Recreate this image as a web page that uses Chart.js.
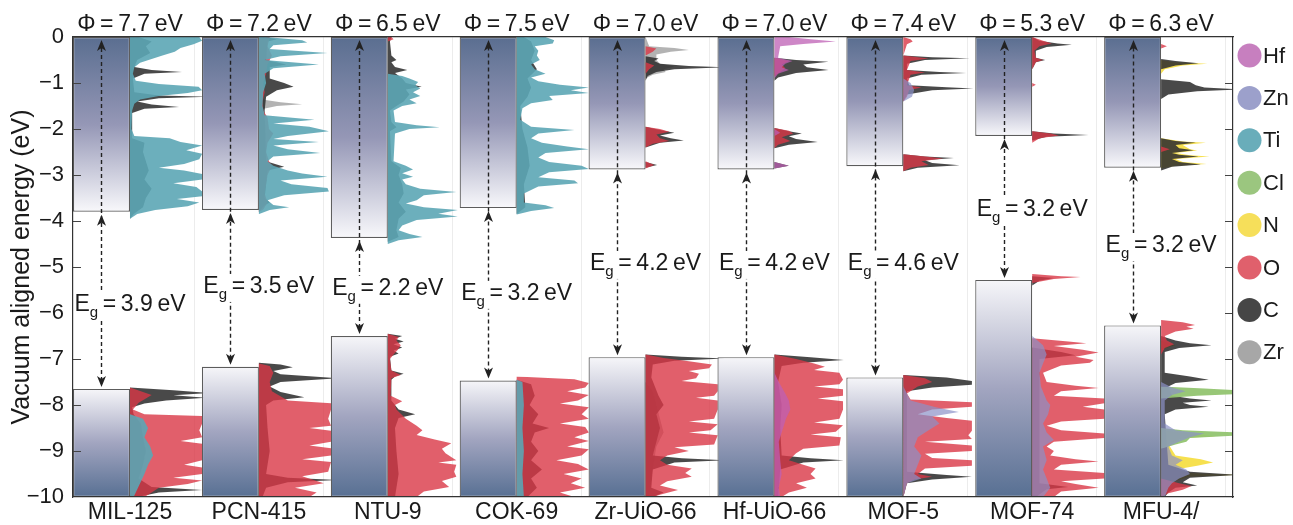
<!DOCTYPE html>
<html>
<head>
<meta charset="utf-8">
<script src="https://cdn.jsdelivr.net/npm/chart.js@4.4.1/dist/chart.umd.min.js"></script>
<style>
  html, body { margin: 0; padding: 0; background: #fff; }
  #wrap { width: 1293px; height: 525px; position: relative; }
</style>
</head>
<body>
<div id="wrap"><canvas id="chart"></canvas></div>
<script>
// ---- data ----
const mofs = ['MIL-125', 'PCN-415', 'NTU-9', 'COK-69', 'Zr-UiO-66', 'Hf-UiO-66', 'MOF-5', 'MOF-74', 'MFU-4/'];
const workFunction = [7.7, 7.2, 6.5, 7.5, 7.0, 7.0, 7.4, 5.3, 6.3];
const bandGap = [3.9, 3.5, 2.2, 3.2, 4.2, 4.2, 4.6, 3.2, 3.2];
const vbEdge = [-7.65, -7.17, -6.5, -7.47, -6.96, -6.96, -7.4, -5.28, -6.27];
const cbEdge = [-3.8, -3.76, -4.37, -3.72, -2.88, -2.88, -2.81, -2.15, -2.84];
const yTicks = [0, -1, -2, -3, -4, -5, -6, -7, -8, -9, -10];
const elements = ['Hf', 'Zn', 'Ti', 'Cl', 'N', 'O', 'C', 'Zr'];

// projected DOS: [energy (eV), DOS (arb., 100 = reaches next box)]
const mil125Ti = [[0,96],[-0.08,100],[-0.16,88],[-0.24,70],[-0.32,62],[-0.4,45],[-0.48,30],[-0.56,14],[-0.66,6],[-0.8,4],[-0.95,8],[-1.02,40],[-1.08,95],[-1.16,100],[-1.22,80],[-1.28,40],[-1.36,14],[-1.45,6],[-1.6,3],[-2.0,2],[-2.15,6],[-2.2,55],[-2.28,70],[-2.36,100],[-2.46,78],[-2.54,100],[-2.66,96],[-2.76,75],[-2.84,40],[-2.9,75],[-2.98,100],[-3.1,100],[-3.18,60],[-3.26,92],[-3.36,100],[-3.46,100],[-3.52,65],[-3.6,96],[-3.68,80],[-3.76,35],[-3.85,10],[-3.95,0],[-8.2,0],[-8.3,18],[-8.5,25],[-8.7,20],[-8.9,28],[-9.1,32],[-9.3,25],[-9.5,20],[-9.7,14],[-9.9,8],[-10,5]];
const mil125C = [[0,12],[-0.1,30],[-0.2,22],[-0.35,28],[-0.5,10],[-0.65,6],[-0.72,30],[-0.76,72],[-0.8,20],[-0.9,4],[-1.2,6],[-1.27,40],[-1.3,110],[-1.33,40],[-1.4,10],[-1.47,30],[-1.52,68],[-1.56,20],[-1.65,3],[-2.2,3],[-2.3,20],[-2.5,18],[-2.7,22],[-2.9,26],[-3.1,20],[-3.3,30],[-3.5,22],[-3.7,18],[-3.85,5],[-3.95,0],[-7.62,0],[-7.68,60],[-7.74,110],[-7.79,60],[-7.84,105],[-7.9,50],[-7.97,20],[-8.05,3],[-8.2,5],[-8.4,15],[-8.7,18],[-9.0,22],[-9.3,18],[-9.6,12],[-9.78,30],[-9.85,100],[-9.9,40],[-10,10]];
const mil125O = [[-7.62,0],[-7.7,15],[-7.78,30],[-7.86,22],[-7.95,12],[-8.1,4],[-8.2,20],[-8.24,100],[-8.4,100],[-8.55,96],[-8.7,100],[-8.78,70],[-8.84,100],[-9.0,100],[-9.2,100],[-9.3,75],[-9.36,100],[-9.5,100],[-9.58,60],[-9.64,100],[-9.72,80],[-9.8,40],[-9.9,30],[-10,20]];

const pcnTi = [[0,10],[-0.07,60],[-0.12,67],[-0.18,20],[-0.26,15],[-0.35,95],[-0.42,30],[-0.5,8],[-0.6,83],[-0.68,20],[-0.8,8],[-1.0,10],[-1.2,6],[-1.5,5],[-1.7,8],[-1.8,77],[-1.88,20],[-1.95,70],[-2.05,97],[-2.15,40],[-2.22,20],[-2.28,83],[-2.36,20],[-2.44,40],[-2.52,85],[-2.6,20],[-2.7,12],[-2.8,20],[-2.9,40],[-2.97,60],[-3.04,95],[-3.12,30],[-3.2,45],[-3.28,95],[-3.36,97],[-3.44,35],[-3.55,12],[-3.65,20],[-3.7,42],[-3.76,15],[-3.85,0]];
const pcnC = [[0,8],[-0.05,25],[-0.1,12],[-0.5,10],[-0.6,38],[-0.66,15],[-0.9,15],[-1.0,35],[-1.08,48],[-1.16,25],[-1.3,10],[-1.6,8],[-2.7,10],[-2.82,35],[-2.9,12],[-3.5,8],[-3.6,15],[-3.66,8],[-3.8,0],[-7.08,0],[-7.12,30],[-7.18,47],[-7.26,20],[-7.33,30],[-7.42,110],[-7.5,30],[-7.6,15],[-7.72,30],[-7.83,63],[-7.9,20],[-8.0,10],[-8.5,12],[-9.0,15],[-9.5,10],[-9.58,40],[-9.63,110],[-9.68,40],[-9.8,10],[-10,5]];
const pcnZr = [[-1.35,0],[-1.42,30],[-1.46,60],[-1.5,25],[-1.58,0]];
const pcnO = [[0,15],[-0.2,12],[-0.4,18],[-0.6,12],[-0.8,10],[-1.0,6],[-1.2,8],[-1.4,5],[-1.6,6],[-1.75,12],[-2.0,14],[-2.1,20],[-2.3,12],[-2.5,10],[-2.7,14],[-2.8,18],[-3.0,12],[-3.2,10],[-3.4,8],[-3.6,12],[-3.75,6],[-3.8,0],[-7.1,0],[-7.15,15],[-7.3,20],[-7.5,15],[-7.7,18],[-7.9,40],[-7.96,100],[-8.1,100],[-8.3,96],[-8.45,100],[-8.5,70],[-8.56,100],[-8.8,100],[-8.88,70],[-8.94,100],[-9.1,100],[-9.18,60],[-9.24,100],[-9.45,96],[-9.55,60],[-9.7,90],[-9.8,50],[-9.9,80],[-10,70]];

const ntuTi = [[0,0],[-0.8,0],[-0.85,20],[-0.9,30],[-0.98,42],[-1.05,38],[-1.12,45],[-1.2,35],[-1.28,45],[-1.36,30],[-1.44,40],[-1.5,20],[-1.6,8],[-1.85,10],[-1.92,40],[-1.96,72],[-2.0,30],[-2.1,10],[-2.7,8],[-2.8,25],[-2.88,35],[-2.96,20],[-3.04,35],[-3.1,20],[-3.2,25],[-3.3,45],[-3.37,95],[-3.44,50],[-3.55,40],[-3.62,25],[-3.7,50],[-3.76,97],[-3.84,70],[-3.9,97],[-3.98,40],[-4.1,20],[-4.2,15],[-4.28,30],[-4.35,48],[-4.42,15],[-4.5,0]];
const ntuC = [[0,5],[-0.1,3],[-0.4,5],[-0.5,12],[-0.55,5],[-0.65,10],[-0.72,27],[-0.78,10],[-0.9,20],[-1.0,25],[-1.08,47],[-1.14,25],[-1.25,30],[-1.4,22],[-1.5,12],[-1.6,3],[-1.85,5],[-1.96,12],[-2.05,3],[-2.7,5],[-2.85,18],[-3.0,15],[-3.2,20],[-3.4,22],[-3.6,15],[-3.8,25],[-3.95,15],[-4.2,12],[-4.35,15],[-4.45,0],[-6.45,0],[-6.5,20],[-6.56,10],[-6.62,22],[-6.68,8],[-6.75,20],[-6.82,8],[-6.88,15],[-6.95,3],[-7.25,5],[-7.32,22],[-7.38,10],[-7.45,5],[-7.9,5],[-8.1,15],[-8.2,38],[-8.28,15],[-8.5,10],[-9.0,12],[-9.5,15],[-10,10]];
const ntuO = [[0,5],[-0.05,8],[-0.1,0],[-6.45,0],[-6.52,15],[-6.6,12],[-6.7,18],[-6.8,14],[-6.9,8],[-7.0,3],[-7.25,5],[-7.35,18],[-7.42,5],[-7.8,4],[-7.92,20],[-8.0,10],[-8.1,12],[-8.3,25],[-8.45,40],[-8.55,48],[-8.65,40],[-8.75,65],[-8.83,88],[-8.95,75],[-9.05,80],[-9.15,90],[-9.2,95],[-9.25,70],[-9.3,95],[-9.45,92],[-9.56,95],[-9.65,75],[-9.78,85],[-9.88,50],[-10,40]];

const cokTi = [[0,40],[-0.07,52],[-0.14,50],[-0.2,25],[-0.3,30],[-0.4,28],[-0.5,32],[-0.6,20],[-0.7,25],[-0.8,40],[-0.88,20],[-0.96,30],[-1.04,60],[-1.1,100],[-1.16,75],[-1.22,100],[-1.28,45],[-1.37,50],[-1.44,20],[-1.55,8],[-1.8,5],[-1.95,20],[-2.02,80],[-2.1,30],[-2.2,20],[-2.3,35],[-2.38,70],[-2.44,100],[-2.52,40],[-2.62,30],[-2.72,45],[-2.8,90],[-2.87,100],[-2.94,45],[-3.05,30],[-3.12,80],[-3.18,85],[-3.25,30],[-3.4,10],[-3.6,10],[-3.66,40],[-3.72,52],[-3.78,20],[-3.86,0],[-7.45,0],[-7.5,8],[-8.0,10],[-8.5,8],[-9.0,10],[-9.5,8],[-10,10]];
const cokC = [[0,10],[-0.1,20],[-0.3,25],[-0.5,20],[-0.7,28],[-0.9,15],[-1.1,20],[-1.3,15],[-1.5,5],[-2.0,8],[-2.4,15],[-2.8,18],[-3.2,10],[-3.7,12],[-3.85,0],[-7.45,0],[-7.55,20],[-7.8,25],[-8.0,18],[-8.2,30],[-8.4,22],[-8.5,45],[-8.6,25],[-8.8,20],[-9.0,30],[-9.2,20],[-9.4,35],[-9.6,20],[-9.8,28],[-10,15]];
const cokO = [[-7.38,0],[-7.44,80],[-7.52,100],[-7.62,95],[-7.7,70],[-7.78,100],[-7.9,85],[-7.97,60],[-8.05,100],[-8.2,90],[-8.3,100],[-8.4,60],[-8.48,95],[-8.6,100],[-8.7,80],[-8.78,100],[-8.9,70],[-8.96,100],[-9.1,90],[-9.2,55],[-9.28,85],[-9.4,100],[-9.5,65],[-9.6,90],[-9.7,75],[-9.8,95],[-9.9,60],[-10,80]];

const zrZr = [[0,0],[-0.2,5],[-0.24,40],[-0.28,60],[-0.32,35],[-0.38,15],[-0.5,15],[-0.58,20],[-0.64,40],[-0.7,25],[-0.76,28],[-0.82,10],[-0.9,0],[-7.5,0],[-7.7,10],[-8.0,15],[-8.3,20],[-8.6,25],[-8.9,15],[-9.2,12],[-9.6,8],[-10,5]];
const zrC = [[0,0],[-0.42,0],[-0.47,18],[-0.52,12],[-0.58,20],[-0.63,60],[-0.66,110],[-0.7,40],[-0.76,15],[-0.85,3],[-0.95,0],[-1.95,0],[-2.02,20],[-2.08,40],[-2.14,20],[-2.2,35],[-2.25,53],[-2.3,20],[-2.4,0],[-2.72,0],[-2.78,16],[-2.84,0],[-6.9,0],[-6.95,50],[-6.99,110],[-7.04,40],[-7.12,10],[-7.4,8],[-7.8,18],[-8.0,25],[-8.2,15],[-8.5,20],[-8.8,15],[-9.1,10],[-9.16,50],[-9.2,110],[-9.25,40],[-9.4,10],[-9.8,8],[-9.9,25],[-10,10]];
const zrO = [[0,0],[-0.2,0],[-0.25,15],[-0.32,10],[-0.4,0],[-0.55,0],[-0.62,12],[-0.7,5],[-0.8,0],[-1.95,0],[-2.0,20],[-2.06,33],[-2.12,15],[-2.2,20],[-2.26,33],[-2.32,10],[-2.4,0],[-2.7,0],[-2.78,12],[-2.86,0],[-6.9,0],[-6.98,25],[-7.05,60],[-7.12,92],[-7.2,88],[-7.26,60],[-7.32,74],[-7.42,70],[-7.48,50],[-7.55,100],[-7.7,100],[-7.8,95],[-7.84,70],[-7.9,100],[-8.1,100],[-8.3,95],[-8.36,60],[-8.42,100],[-8.55,90],[-8.6,60],[-8.66,100],[-8.86,95],[-8.92,40],[-9.0,60],[-9.1,30],[-9.2,20],[-9.3,30],[-9.38,64],[-9.48,55],[-9.56,64],[-9.66,30],[-9.75,20],[-9.85,45],[-9.95,20],[-10,10]];

const hfHf = [[0,20],[-0.05,50],[-0.1,85],[-0.15,40],[-0.2,8],[-0.45,5],[-0.52,25],[-0.58,15],[-0.66,10],[-0.72,20],[-0.8,5],[-0.9,0],[-2.0,0],[-2.08,8],[-2.15,0],[-2.72,0],[-2.8,20],[-2.86,0],[-7.3,0],[-7.5,6],[-7.75,15],[-7.9,20],[-8.1,22],[-8.3,16],[-8.5,12],[-8.8,6],[-9.2,8],[-9.5,10],[-9.8,6],[-10,8]];
const hfC = [[0,0],[-0.45,0],[-0.5,30],[-0.54,75],[-0.6,40],[-0.66,45],[-0.72,75],[-0.78,30],[-0.88,5],[-0.95,0],[-1.98,0],[-2.05,20],[-2.1,38],[-2.16,20],[-2.22,30],[-2.28,60],[-2.34,20],[-2.42,0],[-2.72,0],[-2.8,20],[-2.86,0],[-6.9,0],[-6.96,50],[-7.02,96],[-7.08,40],[-7.15,10],[-7.5,5],[-8.0,10],[-8.5,8],[-9.1,10],[-9.16,50],[-9.2,96],[-9.25,40],[-9.4,8],[-10,5]];
const hfO = [[0,0],[-0.45,0],[-0.52,20],[-0.6,10],[-0.68,15],[-0.76,8],[-0.85,0],[-1.98,0],[-2.04,20],[-2.1,26],[-2.18,10],[-2.26,22],[-2.34,5],[-2.42,0],[-6.9,0],[-7.0,30],[-7.1,55],[-7.17,70],[-7.24,55],[-7.3,90],[-7.45,95],[-7.55,90],[-7.6,55],[-7.66,95],[-7.8,95],[-7.86,60],[-7.92,95],[-8.1,95],[-8.3,90],[-8.38,55],[-8.44,95],[-8.58,85],[-8.64,50],[-8.7,92],[-8.88,90],[-8.95,40],[-9.05,30],[-9.2,20],[-9.3,40],[-9.38,57],[-9.5,50],[-9.6,57],[-9.7,30],[-9.8,45],[-9.9,20],[-10,10]];

const mof5C = [[0,0],[-0.4,0],[-0.44,40],[-0.46,92],[-0.5,30],[-0.58,5],[-0.72,5],[-0.76,50],[-0.78,87],[-0.82,25],[-0.9,5],[-1.05,8],[-1.09,60],[-1.12,97],[-1.16,40],[-1.25,5],[-1.4,0],[-2.55,0],[-2.6,30],[-2.63,70],[-2.68,30],[-2.74,40],[-2.79,78],[-2.84,20],[-2.92,0],[-7.35,0],[-7.4,60],[-7.48,95],[-7.56,95],[-7.62,40],[-7.7,5],[-9.45,5],[-9.52,60],[-9.56,95],[-9.62,40],[-9.7,5],[-10,0]];
const mof5O = [[0,0],[-0.05,10],[-0.1,13],[-0.16,5],[-0.4,0],[-0.44,20],[-0.47,35],[-0.52,10],[-0.72,5],[-0.77,30],[-0.82,10],[-1.05,5],[-1.1,25],[-1.15,8],[-1.3,5],[-1.4,0],[-2.55,0],[-2.6,30],[-2.64,55],[-2.7,25],[-2.78,35],[-2.84,10],[-2.92,0],[-7.35,0],[-7.42,30],[-7.5,40],[-7.6,20],[-7.75,5],[-7.88,10],[-7.94,95],[-8.04,95],[-8.1,40],[-8.2,20],[-8.28,60],[-8.34,95],[-8.56,95],[-8.66,90],[-8.74,95],[-8.8,30],[-8.88,95],[-9.0,95],[-9.06,30],[-9.15,40],[-9.2,95],[-9.32,95],[-9.38,30],[-9.5,20],[-9.56,40],[-9.62,15],[-9.7,5],[-10,0]];
const mof5Zn = [[-0.9,0],[-1.0,10],[-1.15,15],[-1.3,12],[-1.4,0],[-7.6,0],[-7.9,10],[-8.05,45],[-8.15,77],[-8.25,40],[-8.4,50],[-8.55,35],[-8.7,20],[-8.9,15],[-9.1,25],[-9.3,20],[-9.5,15],[-9.6,25],[-9.7,5],[-10,0]];

const mof74C = [[0,0],[-0.08,10],[-0.14,35],[-0.17,55],[-0.22,20],[-0.3,5],[-0.45,5],[-0.5,18],[-0.55,5],[-0.7,0],[-2.05,0],[-2.1,30],[-2.13,78],[-2.17,20],[-2.25,0],[-5.2,0],[-5.24,30],[-5.3,10],[-5.4,0],[-6.75,0],[-6.85,40],[-6.92,60],[-7.0,10],[-9.7,10],[-9.78,50],[-9.83,20],[-10,5]];
const mof74O = [[0,0],[-0.08,15],[-0.14,27],[-0.2,10],[-0.3,3],[-0.45,5],[-0.5,15],[-0.55,5],[-0.7,0],[-1.0,0],[-1.04,5],[-1.08,0],[-2.05,0],[-2.1,25],[-2.14,37],[-2.2,10],[-2.3,0],[-5.15,0],[-5.2,40],[-5.22,67],[-5.26,30],[-5.35,0],[-6.55,0],[-6.62,50],[-6.66,75],[-6.72,30],[-6.8,70],[-6.86,92],[-6.95,60],[-7.02,85],[-7.08,80],[-7.14,40],[-7.3,15],[-7.5,20],[-7.58,60],[-7.63,92],[-7.7,40],[-7.8,30],[-7.86,100],[-7.96,100],[-8.04,70],[-8.1,100],[-8.3,100],[-8.36,40],[-8.45,20],[-8.55,40],[-8.62,100],[-8.72,100],[-8.8,30],[-8.9,20],[-9.0,30],[-9.1,25],[-9.18,60],[-9.23,92],[-9.3,40],[-9.4,30],[-9.48,100],[-9.6,100],[-9.66,40],[-9.72,60],[-9.8,92],[-9.88,40],[-10,30]];
const mof74Zn = [[-6.5,0],[-6.7,15],[-6.9,20],[-7.1,15],[-7.3,10],[-7.6,12],[-7.9,20],[-8.0,25],[-8.2,22],[-8.4,15],[-8.6,20],[-8.76,30],[-8.9,15],[-9.2,20],[-9.4,15],[-9.6,20],[-9.8,25],[-10,15]];

const mfuN = [[0,0],[-0.5,0],[-0.55,20],[-0.58,64],[-0.62,30],[-0.7,5],[-0.8,0],[-2.2,0],[-2.27,30],[-2.3,62],[-2.35,30],[-2.44,40],[-2.47,50],[-2.52,20],[-2.57,40],[-2.6,67],[-2.65,20],[-2.72,30],[-2.76,63],[-2.8,20],[-2.86,0],[-6.6,0],[-6.7,20],[-6.8,0],[-8.55,0],[-8.62,40],[-8.68,75],[-8.72,30],[-8.85,10],[-9.1,20],[-9.18,55],[-9.25,72],[-9.32,50],[-9.4,20],[-9.48,40],[-9.52,105],[-9.56,40],[-9.65,20],[-9.8,10],[-10,0]];
const mfuC = [[0,0],[-0.48,0],[-0.52,20],[-0.57,52],[-0.62,20],[-0.7,0],[-0.92,0],[-0.98,40],[-1.05,48],[-1.1,60],[-1.14,110],[-1.18,50],[-1.25,10],[-1.35,0],[-2.2,0],[-2.26,20],[-2.3,48],[-2.35,20],[-2.42,25],[-2.46,45],[-2.52,15],[-2.56,25],[-2.6,52],[-2.65,15],[-2.72,25],[-2.77,55],[-2.82,15],[-2.9,0],[-6.5,0],[-6.6,20],[-6.66,40],[-6.7,70],[-6.76,25],[-6.85,5],[-7.3,5],[-7.38,40],[-7.45,66],[-7.52,20],[-7.6,10],[-7.8,15],[-7.86,40],[-7.9,70],[-7.95,30],[-8.0,40],[-8.04,66],[-8.1,20],[-8.2,5],[-9.3,10],[-9.45,40],[-9.52,110],[-9.58,40],[-9.68,30],[-9.75,50],[-9.8,20],[-9.9,10],[-10,5]];
const mfuO = [[0,0],[-0.15,0],[-0.2,8],[-0.25,0],[-2.38,0],[-2.44,12],[-2.5,0],[-6.15,0],[-6.2,30],[-6.26,47],[-6.3,35],[-6.34,45],[-6.4,20],[-6.5,5],[-6.6,8],[-6.68,18],[-6.76,5],[-6.9,0],[-9.6,0],[-9.7,25],[-9.76,42],[-9.84,30],[-9.92,10],[-10,0]];
const mfuCl = [[-7.6,0],[-7.64,60],[-7.68,110],[-7.76,110],[-7.8,50],[-7.86,0],[-8.5,0],[-8.55,30],[-8.6,110],[-8.66,110],[-8.72,40],[-8.8,35],[-8.86,20],[-8.95,0]];
const mfuZn = [[-7.5,0],[-7.62,15],[-7.7,34],[-7.78,15],[-7.9,5],[-8.4,5],[-8.55,20],[-8.62,60],[-8.7,40],[-8.8,25],[-8.9,10],[-9.1,15],[-9.2,30],[-9.3,20],[-9.4,35],[-9.5,40],[-9.6,25],[-9.7,15],[-9.8,10],[-10,5]];

// where the E_g labels sit (eV)
const egLabelAt = [-5.78, -5.39, -5.43, -5.54, -4.89, -4.89, -4.89, -3.72, -4.5];

// [column, element, curve]
const dosCurves = [
  [0, 'Ti', mil125Ti], [0, 'C', mil125C], [0, 'O', mil125O],
  [1, 'Ti', pcnTi], [1, 'C', pcnC], [1, 'Zr', pcnZr], [1, 'O', pcnO],
  [2, 'Ti', ntuTi], [2, 'C', ntuC], [2, 'O', ntuO],
  [3, 'Ti', cokTi], [3, 'C', cokC], [3, 'O', cokO],
  [4, 'Zr', zrZr], [4, 'C', zrC], [4, 'O', zrO],
  [5, 'Hf', hfHf], [5, 'C', hfC], [5, 'O', hfO],
  [6, 'C', mof5C], [6, 'O', mof5O], [6, 'Zn', mof5Zn],
  [7, 'C', mof74C], [7, 'O', mof74O], [7, 'Zn', mof74Zn],
  [8, 'N', mfuN], [8, 'C', mfuC], [8, 'O', mfuO], [8, 'Cl', mfuCl], [8, 'Zn', mfuZn]
];

// ---- styling ----
const FONT = '"Liberation Sans", Arial, Helvetica, sans-serif';
const boxFrac = 0.4422;       // box width as fraction of a column
const dosUnit = 0.56 / 100;   // column fraction per DOS unit
const legendColor = { Hf: '#c77fbf', Zn: '#9ca0cb', Ti: '#69adba', Cl: '#9bc67f', N: '#f6df5a', O: '#e0606c', C: '#464646', Zr: '#a7a7a7' };
const fillColor = {
  Hf: 'rgba(190,95,180,0.75)', Zn: 'rgba(140,146,200,0.7)', Ti: 'rgba(92,166,181,0.9)',
  Cl: 'rgba(146,196,112,0.95)', N: 'rgba(246,222,70,0.95)', O: 'rgba(218,55,70,0.8)',
  C: 'rgba(48,48,48,0.88)', Zr: 'rgba(160,160,160,0.8)'
};
const layer = { Hf: 1, Zn: 2, Ti: 3, Cl: 4, O: 5, C: 6, N: 7, Zr: 8 };

function boxGradient(c, upper) {
  const chart = c.chart;
  if (!chart.chartArea || !c.raw) return '#9a9cb9';
  const ys = chart.scales.y;
  const top = ys.getPixelForValue(c.raw.y[1]);
  const bot = ys.getPixelForValue(c.raw.y[0]);
  const g = chart.ctx.createLinearGradient(0, top, 0, bot);
  if (upper) {
    g.addColorStop(0, '#5a6e90'); g.addColorStop(0.5, '#9597b6'); g.addColorStop(1, '#f8f8fb');
  } else {
    g.addColorStop(0, '#f6f6f9'); g.addColorStop(0.5, '#a2a5c0'); g.addColorStop(1, '#587093');
  }
  return g;
}

const boxDatasets = [
  { label: 'conduction', upper: true, data: mofs.map((m, i) => ({ x: i + boxFrac / 2, y: [cbEdge[i], 0] })) },
  { label: 'valence', upper: false, data: mofs.map((m, i) => ({ x: i + boxFrac / 2, y: [-10, vbEdge[i]] })) }
].map(d => ({
  type: 'bar', label: d.label, data: d.data,
  backgroundColor: c => boxGradient(c, d.upper),
  borderColor: '#5c5c5c', borderWidth: 1.2, borderSkipped: false,
  grouped: false, categoryPercentage: 1, barPercentage: boxFrac, order: 0
}));

const dosDatasets = dosCurves.map(([col, el, pts]) => ({
  type: 'line', indexAxis: 'y', label: mofs[col] + ' ' + el,
  data: pts.map(([e, v]) => ({ x: col + boxFrac + v * dosUnit, y: e })),
  fill: { value: col + boxFrac },
  backgroundColor: fillColor[el], borderWidth: 0, pointRadius: 0, tension: 0,
  order: layer[el]
}));

function arrowHead(ctx, x, tipY, dir) {
  // dir = -1 points up, +1 points down
  ctx.beginPath();
  ctx.moveTo(x, tipY);
  ctx.lineTo(x - 4.5, tipY - dir * 11);
  ctx.lineTo(x, tipY - dir * 8);
  ctx.lineTo(x + 4.5, tipY - dir * 11);
  ctx.closePath();
  ctx.fill();
}

const overlay = {
  id: 'overlay',
  afterDatasetsDraw(chart) {
    const { ctx, chartArea: a, scales: { x, y } } = chart;
    ctx.save();
    // inward ticks on both frames
    ctx.strokeStyle = '#444'; ctx.lineWidth = 1.2;
    yTicks.slice(1, -1).forEach(v => {
      const py = Math.round(y.getPixelForValue(v)) + 0.5;
      ctx.beginPath();
      ctx.moveTo(a.left, py); ctx.lineTo(a.left + 8, py);
      ctx.moveTo(a.right - 8, py); ctx.lineTo(a.right, py);
      ctx.stroke();
    });
    // arrows + gap labels
    mofs.forEach((m, i) => {
      const cx = Math.round(x.getPixelForValue(i + boxFrac / 2)) + 0.5;
      const top = y.getPixelForValue(0);
      const cb = y.getPixelForValue(cbEdge[i]);
      const vb = y.getPixelForValue(vbEdge[i]);
      ctx.strokeStyle = '#222'; ctx.fillStyle = '#222'; ctx.lineWidth = 1.4;
      ctx.setLineDash([4, 3]);
      ctx.beginPath(); ctx.moveTo(cx, vb - 8); ctx.lineTo(cx, top + 9); ctx.stroke();
      ctx.setLineDash([]);
      arrowHead(ctx, cx, top + 3, -1);
      arrowHead(ctx, cx, cb + 3, -1);
      arrowHead(ctx, cx, vb - 2, 1);

      const lx = x.getPixelForValue(i + boxFrac);
      const base = y.getPixelForValue(egLabelAt[i]) + 8;
      const big = '23px ' + FONT, small = '15px ' + FONT;
      const rest = '\u2009=\u2009' + bandGap[i].toFixed(1) + '\u2009eV';
      ctx.font = big;
      const wE = ctx.measureText('E').width, wR = ctx.measureText(rest).width;
      ctx.font = small;
      const wg = ctx.measureText('g').width;
      const w = wE + wg + wR, x0 = lx - w / 2;
      ctx.fillStyle = '#fff';
      ctx.fillRect(x0 - 2, base - 19, w + 4, 28);
      ctx.fillStyle = '#1a1a1a'; ctx.textAlign = 'left'; ctx.textBaseline = 'alphabetic';
      ctx.font = big; ctx.fillText('E', x0, base);
      ctx.font = small; ctx.fillText('g', x0 + wE, base + 6);
      ctx.font = big; ctx.fillText(rest, x0 + wE + wg, base);
    });
    ctx.restore();
  },
  afterDraw(chart) {
    const { ctx, chartArea: a, scales: { x } } = chart;
    ctx.save();
    ctx.fillStyle = '#1a1a1a';
    ctx.font = '23px ' + FONT;
    ctx.textAlign = 'center'; ctx.textBaseline = 'alphabetic';
    mofs.forEach((m, i) => {
      ctx.fillText('\u03A6\u2009=\u2009' + workFunction[i].toFixed(1) + '\u2009eV', x.getPixelForValue(i + boxFrac), a.top - 6);
    });
    // legend
    ctx.font = '22px ' + FONT; ctx.textAlign = 'left'; ctx.textBaseline = 'middle';
    elements.forEach((el, k) => {
      const cy = 55.5 + k * 42.4;
      ctx.fillStyle = legendColor[el];
      ctx.beginPath(); ctx.arc(1249.5, cy, 12, 0, Math.PI * 2); ctx.fill();
      ctx.fillStyle = '#1a1a1a';
      ctx.fillText(el, 1263, cy + 1);
    });
    ctx.restore();
  }
};

Chart.defaults.font.family = FONT;
Chart.defaults.color = '#1a1a1a';

new Chart(document.getElementById('chart'), {
  type: 'bar',
  data: { datasets: [...boxDatasets, ...dosDatasets] },
  options: {
    responsive: true, maintainAspectRatio: false, animation: false, events: [],
    layout: { padding: { top: 37, right: 60, left: 0, bottom: 0 } },
    plugins: { legend: { display: false }, tooltip: { enabled: false } },
    scales: {
      x: {
        type: 'linear', axis: 'x', position: 'bottom', min: 0, max: 9, offset: false,
        afterBuildTicks: s => { s.ticks = mofs.map((m, i) => ({ value: i + boxFrac })); },
        afterFit: s => { s.height = 28; },
        grid: { display: false, drawTicks: false },
        border: { display: true, color: '#333', width: 1.2, z: 1 },
        ticks: { autoSkip: false, maxRotation: 0, padding: 2, font: { size: 23 }, color: '#1a1a1a',
                 callback: (v, idx) => mofs[idx] }
      },
      x2: {
        type: 'linear', axis: 'x', position: 'top', min: 0, max: 9, offset: false, display: true,
        afterBuildTicks: s => { s.ticks = mofs.map((m, i) => ({ value: i + boxFrac })); },
        afterFit: s => { s.height = 0; },
        grid: { display: true, color: '#ececec', lineWidth: 1, drawTicks: false },
        border: { display: true, color: '#333', width: 1.2, z: 1 },
        ticks: { display: false }
      },
      y: {
        type: 'linear', axis: 'y', position: 'left', min: -10, max: 0,
        afterBuildTicks: s => { s.ticks = yTicks.map(v => ({ value: v })); },
        afterFit: s => { s.width = 73; },
        grid: { display: false, drawTicks: false },
        border: { display: true, color: '#333', width: 1.2, z: 1 },
        ticks: { padding: 9, font: { size: 22 }, color: '#1a1a1a',
                 callback: v => (v < 0 ? '\u2212' + Math.abs(v) : String(v)) },
        title: { display: true, text: 'Vacuum aligned energy (eV)', font: { size: 25 }, color: '#1a1a1a',
                 padding: { top: 7, bottom: 0 } }
      },
      y2: {
        type: 'linear', axis: 'y', position: 'right', min: -10, max: 0, display: true,
        afterFit: s => { s.width = 0; },
        grid: { display: false, drawTicks: false },
        border: { display: true, color: '#333', width: 1.2, z: 1 },
        ticks: { display: false }
      }
    }
  },
  plugins: [overlay]
});
</script>
</body>
</html>
